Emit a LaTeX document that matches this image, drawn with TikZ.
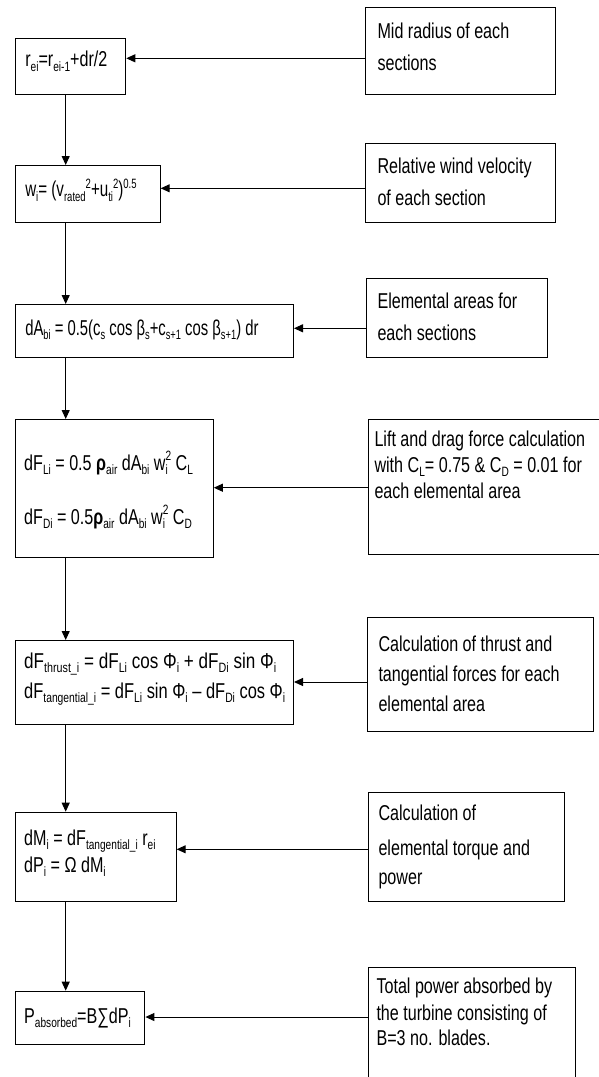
\documentclass[tikz,border=0pt]{standalone}
\usepackage{fontspec}
\setmainfont[FakeStretch=0.75]{Liberation Sans}
\usetikzlibrary{arrows.meta}
\newcommand\sbs[1]{\raisebox{-0.2em}{\fontsize{13.5}{13.5}\selectfont #1}}
\newcommand\sps[1]{\raisebox{0.38em}{\fontsize{13.5}{13.5}\selectfont #1}}
\newcommand\ssp[2]{\raisebox{-0.2em}{\fontsize{13.5}{12.5}\selectfont\begin{tabular}[b]{@{}l@{}}#2\\#1\end{tabular}}}
\begin{document}
\begin{tikzpicture}[x=1pt,y=-1pt,line width=1pt,
  box/.style={draw=black,rectangle,anchor=north west,inner sep=0pt},
  txt/.style={anchor=base west,inner sep=0pt,font=\fontsize{21.5}{25}\selectfont},
  arr/.style={-{Triangle[length=9pt,width=8pt]}}]
\useasboundingbox (0,0) rectangle (599,1077);
% boxes
\node[box,minimum width=110.8pt,minimum height=55.7pt] (L1) at (14.5,38.3) {};
\node[box,minimum width=189.8pt,minimum height=87.3pt] (R1) at (364.8,6.7) {};
\node[box,minimum width=145.2pt,minimum height=56.7pt] (L2) at (14.5,165) {};
\node[box,minimum width=189.8pt,minimum height=79pt] (R2) at (364.8,142.7) {};
\node[box,minimum width=278.5pt,minimum height=53.3pt] (L3) at (14.5,304) {};
\node[box,minimum width=181.9pt,minimum height=79pt] (R3) at (365.5,278.3) {};
\node[box,minimum width=198.3pt,minimum height=137.7pt] (L4) at (14.5,419) {};
\node[box,minimum width=240pt,minimum height=134.7pt] (R4) at (367.5,419.3) {};
\node[box,minimum width=278.5pt,minimum height=84pt] (L5) at (14.5,640) {};
\node[box,minimum width=226.5pt,minimum height=113.7pt] (R5) at (366.7,617.3) {};
\node[box,minimum width=161.2pt,minimum height=89pt] (L6) at (14.5,811.7) {};
\node[box,minimum width=196.7pt,minimum height=108.4pt] (R6) at (367.5,792.3) {};
\node[box,minimum width=129.9pt,minimum height=53.3pt] (L7) at (14.5,990.7) {};
\node[box,minimum width=207.4pt,minimum height=125pt] (R7) at (367.5,966.7) {};
% left texts
\node[txt] (l1) at (24.8,66.7) {r\sbs{ei}=r\sbs{ei-1}+dr/2};
\node[txt] (l2) at (24.8,196.7) {\scalebox{0.94}[1]{w\sbs{i}= (v\sbs{rated}\sps{2}+u\sbs{ti}\sps{2})\sps{0.5}}};
\node[txt] (l3) at (24.8,335) {\scalebox{0.92}[1]{dA\sbs{bi} = 0.5(c\sbs{s} cos β\sbs{s}+c\sbs{s+1} cos β\sbs{s+1}) dr}};
\node[txt] (l4a) at (23.7,470) {dF\sbs{Li} = 0.5 {\bfseries ρ}\sbs{air} dA\sbs{bi} w\ssp{i}{2} C\sbs{L}};
\node[txt] (l4b) at (23.7,524) {dF\sbs{Di} = 0.5{\bfseries ρ}\sbs{air} dA\sbs{bi} w\ssp{i}{2} C\sbs{D}};
\node[txt] (l5a) at (23.7,668) {\scalebox{1.06}[1]{dF\sbs{thrust\_i} = dF\sbs{Li} cos Φ\sbs{i} + dF\sbs{Di} sin Φ\sbs{i}}};
\node[txt] (l5b) at (23.7,698) {\scalebox{1.02}[1]{dF\sbs{tangential\_i} = dF\sbs{Li} sin Φ\sbs{i} – dF\sbs{Di} cos Φ\sbs{i}}};
\node[txt] (l6a) at (23.7,845) {dM\sbs{i} = dF\sbs{tangential\_i} r\sbs{ei}};
\node[txt] (l6b) at (23.7,872) {dP\sbs{i} = Ω dM\sbs{i}};
\node[txt] (l7) at (23.7,1023) {P\sbs{absorbed}=B∑dP\sbs{i}};
% right texts
\node[txt] (r1a) at (377,38.5) {Mid radius of each};
\node[txt] (r1b) at (377,70.5) {sections};
\node[txt] (r2a) at (377,173.3) {Relative wind velocity};
\node[txt] (r2b) at (377,205) {of each section};
\node[txt] (r3a) at (377,308.3) {Elemental areas for};
\node[txt] (r3b) at (377,340) {each sections};
\node[txt] (r4a) at (374,446.7) {Lift and drag force calculation};
\node[txt] (r4b) at (374,472.5) {with C\sbs{L}= 0.75 \& C\sbs{D} = 0.01 for};
\node[txt] (r4c) at (374,498) {each elemental area};
\node[txt] (r5a) at (378,651.7) {Calculation of thrust and};
\node[txt] (r5b) at (378,681.7) {tangential forces for each};
\node[txt] (r5c) at (378,711.7) {elemental area};
\node[txt] (r6a) at (378,820) {Calculation of};
\node[txt] (r6b) at (378,855) {elemental torque and};
\node[txt] (r6c) at (378,884) {power};
\node[txt] (r7a) at (376,993.3) {Total power absorbed by};
\node[txt] (r7b) at (376,1020) {the turbine consisting of};
\node[txt] (r7c) at (376,1045) {B=3 no. blades.};
% vertical connectors
\coordinate (vx) at (65.7,0);
\draw[arr] (L1.south -| vx) -- (L2.north -| vx);
\draw[arr] (L2.south -| vx) -- (L3.north -| vx);
\draw[arr] (L3.south -| vx) -- (L4.north -| vx);
\draw[arr] (L4.south -| vx) -- (L5.north -| vx);
\draw[arr] (L5.south -| vx) -- (L6.north -| vx);
\draw[arr] (L6.south -| vx) -- (L7.north -| vx);
% horizontal connectors
\coordinate (h1) at (0,58.3);
\coordinate (h2) at (0,188.3);
\coordinate (h3) at (0,328.3);
\coordinate (h4) at (0,487.7);
\coordinate (h5) at (0,682);
\coordinate (h6) at (0,849.3);
\coordinate (h7) at (0,1017);
\draw[arr] (R1.west |- h1) -- (L1.east |- h1);
\draw[arr] (R2.west |- h2) -- (L2.east |- h2);
\draw[arr] (R3.west |- h3) -- (L3.east |- h3);
\draw[arr] (R4.west |- h4) -- (L4.east |- h4);
\draw[arr] (R5.west |- h5) -- (L5.east |- h5);
\draw[arr] (R6.west |- h6) -- (L6.east |- h6);
\draw[arr] (R7.west |- h7) -- (L7.east |- h7);
\end{tikzpicture}
\end{document}
